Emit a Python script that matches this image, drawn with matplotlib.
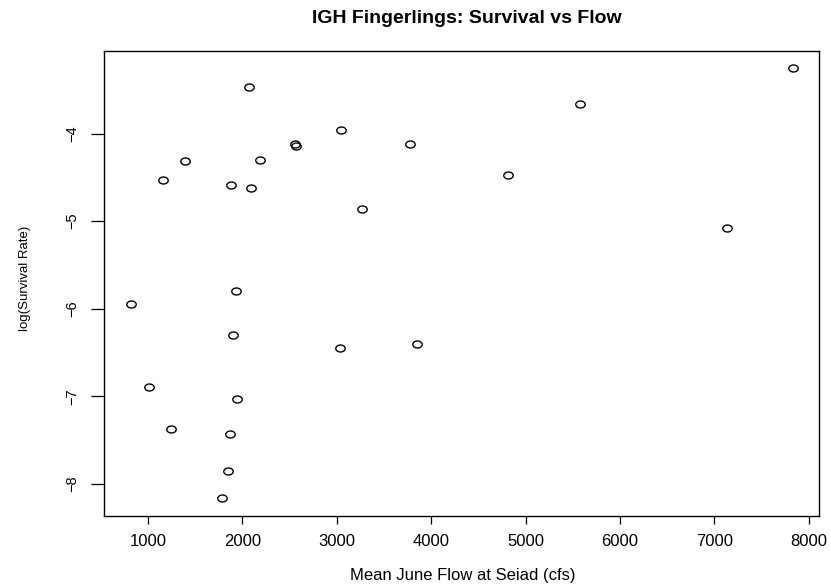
import matplotlib
matplotlib.use("Agg")
import matplotlib.pyplot as plt
from matplotlib.path import Path
from matplotlib.transforms import Affine2D

flow = [2073, 3042, 2552, 2570, 1392, 2185, 1163, 1875, 2090, 3265,
        7830, 5579, 3777, 4810, 7134,
        1928, 817, 1904, 3032, 1007, 1939, 1240, 1872, 1851, 1783,
        3847]
log_surv = [-3.467, -3.962, -4.119, -4.137, -4.309, -4.297, -4.526, -4.583, -4.625, -4.861,
            -3.250, -3.657, -4.119, -4.477, -5.074,
            -5.794, -5.951, -6.297, -6.450, -6.891, -7.037, -7.380, -7.429, -7.859, -8.168,
            -6.400]
xticks = [1000, 2000, 3000, 4000, 5000, 6000, 7000, 8000]
yticks = [-8, -7, -6, -5, -4]

plt.rcParams['font.family'] = ['Liberation Sans', 'DejaVu Sans']

fig = plt.figure(figsize=(8.31, 5.88), dpi=100)
ax = fig.add_axes([104.3/831, 1-515.7/588, (819.3-104.3)/831, (515.7-50.7)/588])

ellipse = Path.unit_circle().transformed(Affine2D().scale(1.35, 1.0))
ax.plot(flow, log_surv, linestyle='none', marker=ellipse, markersize=6.8,
        markerfacecolor='none', markeredgecolor='black', markeredgewidth=1.0)

xr = max(flow) - min(flow)
yr = max(log_surv) - min(log_surv)
ax.set_xlim(min(flow) - 0.04*xr, max(flow) + 0.04*xr)
ax.set_ylim(min(log_surv) - 0.04*yr, max(log_surv) + 0.04*yr)

ax.set_xticks(xticks)
ax.set_xticklabels([str(t) for t in xticks], fontsize=12)
ax.set_yticks(yticks)
ax.set_yticklabels([f"\u2212{abs(t)}" for t in yticks], rotation=90, va='center', fontsize=10.5)

ax.tick_params(axis='x', direction='out', length=5.5, width=0.9, colors='black', pad=8)
ax.tick_params(axis='y', direction='out', length=9.2, width=0.9, colors='black', pad=9)
for s in ax.spines.values():
    s.set_linewidth(1.0)

fig.text(463/831, 1-580/588, "Mean June Flow at Seiad (cfs)", ha='center', va='baseline',
         fontsize=12)
fig.text(25/831, 1-278.5/588, "log(Survival Rate)", ha='center', va='center', rotation=90, fontsize=9.5)
fig.text(467/831, 1-22.7/588, "IGH Fingerlings: Survival vs Flow", ha='center', va='baseline',
         fontsize=14, fontweight='bold')

fig.savefig("out.png", dpi=100)
